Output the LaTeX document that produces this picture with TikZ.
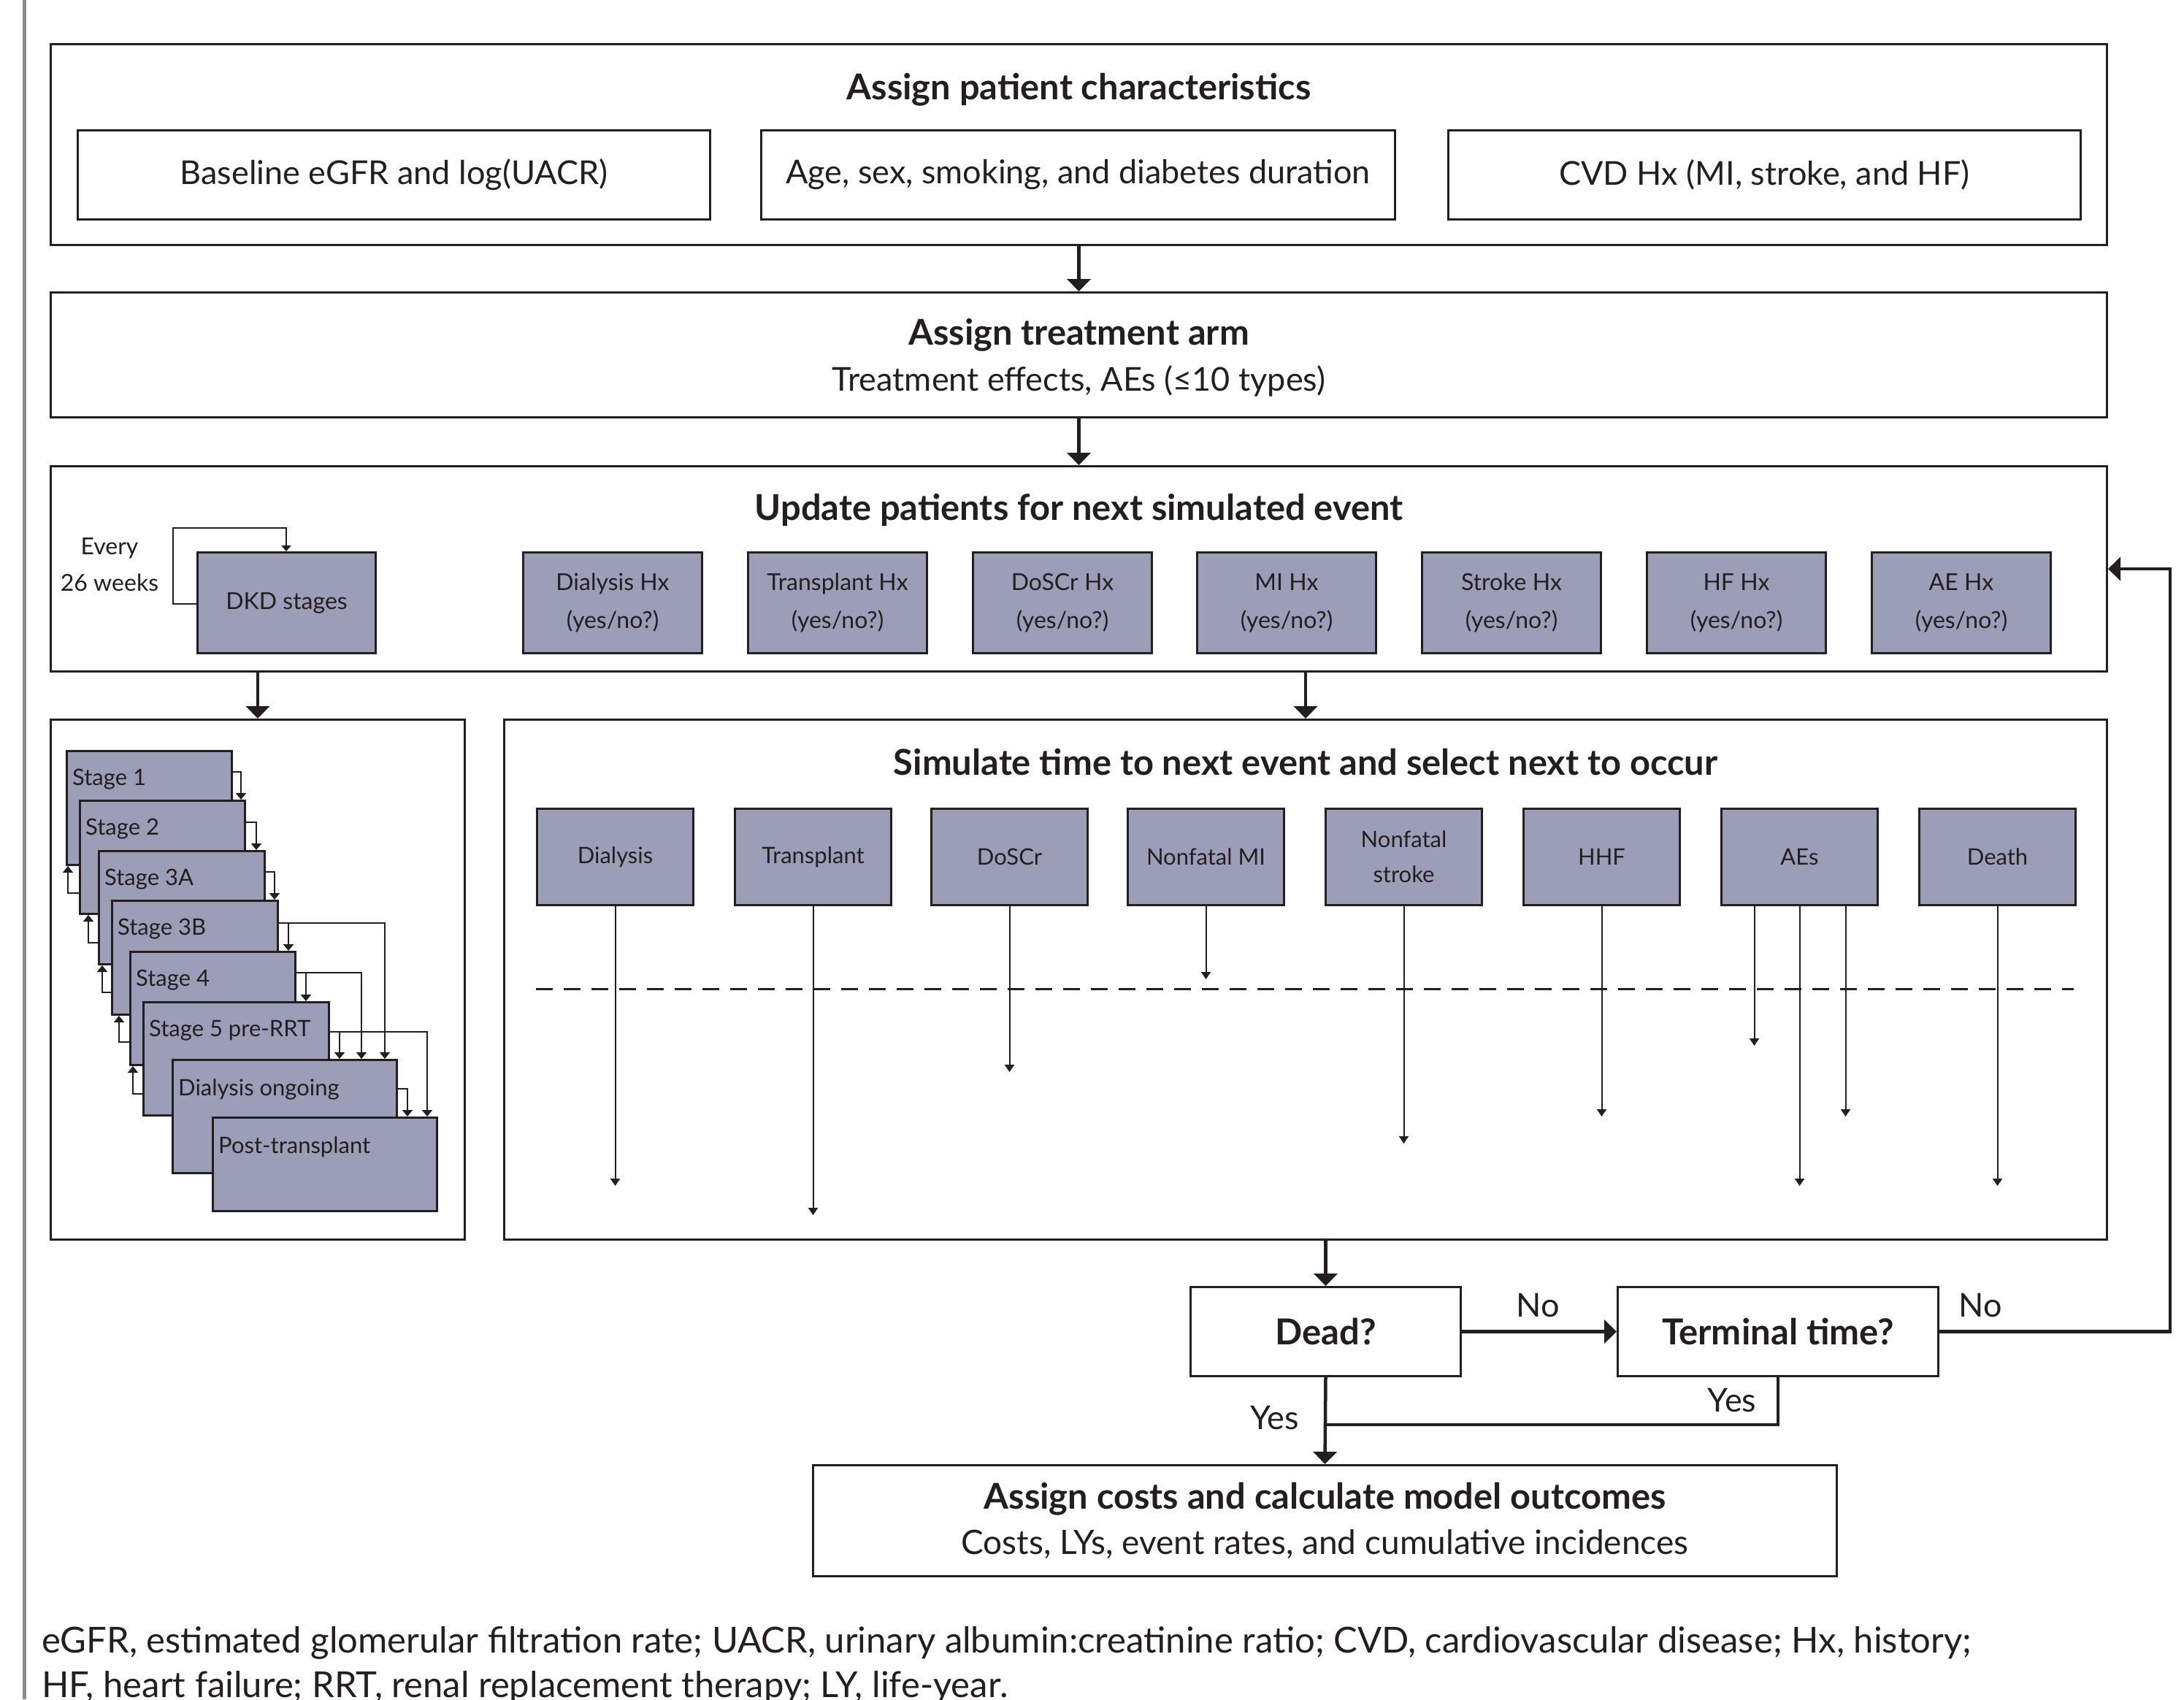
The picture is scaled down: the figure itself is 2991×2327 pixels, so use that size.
\documentclass[tikz,border=0pt]{standalone}
\usepackage{fontspec}
\setmainfont{Lato}
\usetikzlibrary{arrows.meta,calc}
\definecolor{ink}{RGB}{35,31,32}
\definecolor{lav}{RGB}{156,158,184}
\definecolor{barg}{RGB}{140,140,140}
\newcommand{\FBig}{\fontsize{45}{52}\selectfont}
\newcommand{\FFoot}{\fontsize{49}{56}\selectfont}
\newcommand{\FTtl}{\fontsize{48.8}{56}\bfseries\selectfont}
\newcommand{\FDec}{\fontsize{49}{56}\bfseries\selectfont}
\newcommand{\FHx}{\fontsize{32}{52}\selectfont}
\newcommand{\FEv}{\fontsize{31}{48}\selectfont}
\newcommand{\FSt}{\fontsize{31}{36}\selectfont}
\tikzset{
  frame/.style={draw=ink, line width=3pt, anchor=north west, inner sep=0pt},
  wbox/.style={draw=ink, line width=3pt, anchor=north west, inner sep=0pt, font=\FBig, text=ink, align=center},
  hxbox/.style={draw=ink, fill=lav, line width=3pt, anchor=north west, inner sep=0pt, font=\FHx, text=ink, align=center, minimum width=245pt, minimum height=138pt},
  evbox/.style={draw=ink, fill=lav, line width=3pt, anchor=north west, inner sep=0pt, font=\FEv, text=ink, align=center, minimum width=214pt, minimum height=132pt},
  stbox/.style={draw=ink, fill=lav, line width=3pt, anchor=north west, inner sep=0pt},
  stlab/.style={font=\FSt, text=ink, inner sep=0pt, anchor=west},
  ttl/.style={font=\FTtl, text=ink, inner sep=0pt},
  txt/.style={font=\FBig, text=ink, inner sep=0pt},
  bigarr/.style={draw=ink, line width=4.5pt, -{Triangle[length=17pt,width=32pt]}},
  thk/.style={draw=ink, line width=4.5pt},
  tarr/.style={draw=ink, line width=2pt, -{Triangle[length=10pt,width=13pt]}},
  sarr/.style={draw=ink, line width=2.5pt, -{Triangle[length=9pt,width=14pt]}},
  larr/.style={draw=ink, line width=2pt, -{Triangle[length=8pt,width=13pt]}},
  dline/.style={draw=ink, line width=3pt, dash pattern=on 23pt off 15pt},
}
\begin{document}
\begin{tikzpicture}[x=1pt,y=-1pt]
\useasboundingbox[fill=white] (0,0) rectangle (2991,2327);
% left grey rule
\draw[barg, line width=5pt] (33,0) -- (33,2327);

% ---- Assign patient characteristics
\node[frame, minimum width=2816pt, minimum height=275pt] (pc) at (68,59) {};
\node[ttl] (pct) at ([yshift=-64pt]pc.north) {Assign patient characteristics};
\node[wbox, minimum width=866pt, minimum height=122pt] (pc1) at (105,177) {Baseline eGFR and log(UACR)};
\node[wbox, minimum width=868pt, minimum height=122pt] (pc2) at (1041,177) {Age, sex, smoking, and diabetes duration};
\node[wbox, minimum width=866pt, minimum height=122pt] (pc3) at (1982,177) {CVD Hx (MI, stroke, and HF)};

% ---- Assign treatment arm
\node[frame, minimum width=2816pt, minimum height=171pt] (tr) at (68,399) {};
\node[ttl] (trt) at ([yshift=-60pt]tr.north) {Assign treatment arm};
\node[txt] (trs) at ([yshift=-123pt]tr.north) {Treatment effects, AEs (≤10 types)};
\draw[bigarr] (pc.south) -- (tr.north);

% ---- Update patients
\node[frame, minimum width=2816pt, minimum height=281pt] (up) at (68,637) {};
\node[ttl] (upt) at ([yshift=-61pt]up.north) {Update patients for next simulated event};
\draw[bigarr] (tr.south) -- (up.north);
\node[hxbox, minimum width=244pt] (dkd) at (269,755) {DKD stages};
\node[txt, font=\fontsize{32}{50}\selectfont, align=center] (every) at (150,773) {Every\\26 weeks};
\draw[larr] ([yshift=-72pt]dkd.north west) -- ++(-32,0) -- ++(0,-104) -- ++(155,0) -- ++(0,32);
\node[hxbox] (hx1) at (715,755) {Dialysis Hx\\(yes/no?)};
\node[hxbox] (hx2) at (1023,755) {Transplant Hx\\(yes/no?)};
\node[hxbox] (hx3) at (1331,755) {DoSCr Hx\\(yes/no?)};
\node[hxbox] (hx4) at (1638,755) {MI Hx\\(yes/no?)};
\node[hxbox] (hx5) at (1946,755) {Stroke Hx\\(yes/no?)};
\node[hxbox] (hx6) at (2254,755) {HF Hx\\(yes/no?)};
\node[hxbox] (hx7) at (2562,755) {AE Hx\\(yes/no?)};

% ---- DKD stage box
\node[frame, minimum width=567pt, minimum height=712pt] (stg) at (68,984) {};
\draw[bigarr] (stg.north |- up.south) -- (stg.north);
\node[stbox, minimum width=226pt, minimum height=156pt] (s1) at (90,1027) {};
\node[stlab] (s1t) at ([xshift=9pt,yshift=-40pt]s1.north west) {Stage 1};
\node[stbox, minimum width=226pt, minimum height=155pt] (s2) at (108,1095) {};
\node[stlab] (s2t) at ([xshift=9pt,yshift=-40pt]s2.north west) {Stage 2};
\node[stbox, minimum width=227pt, minimum height=155pt] (s3) at (134,1164) {};
\node[stlab] (s3t) at ([xshift=9pt,yshift=-40pt]s3.north west) {Stage 3A};
\node[stbox, minimum width=227pt, minimum height=156pt] (s4) at (152,1232) {};
\node[stlab] (s4t) at ([xshift=9pt,yshift=-40pt]s4.north west) {Stage 3B};
\node[stbox, minimum width=226pt, minimum height=155pt] (s5) at (177,1302) {};
\node[stlab] (s5t) at ([xshift=9pt,yshift=-40pt]s5.north west) {Stage 4};
\node[stbox, minimum width=254pt, minimum height=155pt] (s6) at (195,1371) {};
\node[stlab] (s6t) at ([xshift=9pt,yshift=-40pt]s6.north west) {Stage 5 pre-RRT};
\node[stbox, minimum width=307pt, minimum height=155pt] (s7) at (235,1450) {};
\node[stlab] (s7t) at ([xshift=9pt,yshift=-42pt]s7.north west) {Dialysis ongoing};
\node[stbox, minimum width=307pt, minimum height=128pt] (s8) at (290,1529) {};
\node[stlab] (s8t) at ([xshift=9pt,yshift=-42pt]s8.north west) {Post-transplant};
% forward transitions
\draw[sarr] ([yshift=-30pt]s1.north east) -| ([xshift=-7pt]s2.north east);
\draw[sarr] ([yshift=-31pt]s2.north east) -| ([xshift=-13pt]s3.north east);
\draw[sarr] ([yshift=-30pt]s3.north east) -| ([xshift=-6pt]s4.north east);
\draw[sarr] ([yshift=-32pt]s4.north east) -| ([xshift=-11pt]s5.north east);
\draw[sarr] ([yshift=-32pt]s4.north east) -| ([xshift=-18pt]s7.north east);
\draw[sarr] ([yshift=-30pt]s5.north east) -| ([xshift=-33pt]s6.north east);
\draw[sarr] ([yshift=-30pt]s5.north east) -| ([xshift=-50pt]s7.north east);
\draw[sarr] ([yshift=-42pt]s6.north east) -| ([xshift=-80pt]s7.north east);
\draw[sarr] ([yshift=-42pt]s6.north east) -| ([xshift=-15pt]s8.north east);
\draw[sarr] ([yshift=-41pt]s7.north east) -| ([xshift=-42pt]s8.north east);
% backward transitions
\draw[sarr] ([yshift=30pt]s2.south west) -| ([xshift=3pt]s1.south west);
\draw[sarr] ([yshift=31pt]s3.south west) -| ([xshift=13pt]s2.south west);
\draw[sarr] ([yshift=32pt]s4.south west) -| ([xshift=6pt]s3.south west);
\draw[sarr] ([yshift=33pt]s5.south west) -| ([xshift=11pt]s4.south west);
\draw[sarr] ([yshift=31pt]s6.south west) -| ([xshift=5pt]s5.south west);

% ---- Simulate time to next event
\node[frame, minimum width=2195pt, minimum height=712pt] (ev) at (689,984) {};
\node[ttl] (evt) at ([yshift=-60pt]ev.north) {Simulate time to next event and select next to occur};
\draw[bigarr] (ev.north |- up.south) -- (ev.north);
\node[evbox] (e1) at (734,1106) {Dialysis};
\node[evbox] (e2) at (1005,1106) {Transplant};
\node[evbox] (e3) at (1274,1106) {DoSCr};
\node[evbox] (e4) at (1543,1106) {Nonfatal MI};
\node[evbox] (e5) at (1814,1106) {Nonfatal\\stroke};
\node[evbox] (e6) at (2085,1106) {HHF};
\node[evbox] (e7) at (2356,1106) {AEs};
\node[evbox] (e8) at (2627,1106) {Death};
\coordinate (dl1) at (734,1354);
\coordinate (dl2) at (2840,1354);
\draw[dline] (dl1) -- (dl2);
\draw[tarr] (e1.south) -- ++(0,383);
\draw[tarr] (e2.south) -- ++(0,423);
\draw[tarr] (e3.south) -- ++(0,227);
\draw[tarr] (e4.south) -- ++(0,100);
\draw[tarr] (e5.south) -- ++(0,325);
\draw[tarr] (e6.south) -- ++(0,288);
\draw[tarr] ([xshift=-62pt]e7.south) -- ++(0,191);
\draw[tarr] (e7.south) -- ++(0,383);
\draw[tarr] ([xshift=63pt]e7.south) -- ++(0,288);
\draw[tarr] (e8.south) -- ++(0,383);

% ---- Decisions
\node[wbox, minimum width=370pt, minimum height=122pt, font=\FDec] (dead) at (1629,1761) {Dead?};
\node[wbox, minimum width=439pt, minimum height=122pt, font=\FDec] (term) at (2214,1761) {Terminal time?};
\draw[bigarr] (dead.north |- ev.south) -- (dead.north);
\draw[bigarr] (dead.east) -- (term.west);
\node[txt] (no1) at (2106,1788) {No};
\draw[bigarr] (term.east) -| ([xshift=85pt]up.east) -- (up.east);
\node[txt] (no2) at (2712,1788) {No};

% ---- Outcomes
\node[frame, minimum width=1402pt, minimum height=152pt] (out) at (1112,2005) {};
\node[ttl] (outt) at ([yshift=-48pt]out.north) {Assign costs and calculate model outcomes};
\node[txt, font=\fontsize{46}{52}\selectfont] (outs) at ([yshift=-110pt]out.north) {Costs, LYs, event rates, and cumulative incidences};
\coordinate (yj) at (dead.south |- 0,1951);
\draw[bigarr] (dead.south) -- (out.north);
\draw[thk] (term.south) |- (yj);
\node[txt] (yes1) at (1746,1942) {Yes};
\node[txt] (yes2) at (2372,1918) {Yes};

% ---- Footnote
\node[txt, font=\FFoot, anchor=base west] (fn1) at (57,2263) {eGFR, estimated glomerular filtration rate; UACR, urinary albumin:creatinine ratio; CVD, cardiovascular disease; Hx, history;};
\node[txt, font=\FFoot, anchor=base west] (fn2) at (57,2324) {HF, heart failure; RRT, renal replacement therapy; LY, life-year.};
\end{tikzpicture}
\end{document}
